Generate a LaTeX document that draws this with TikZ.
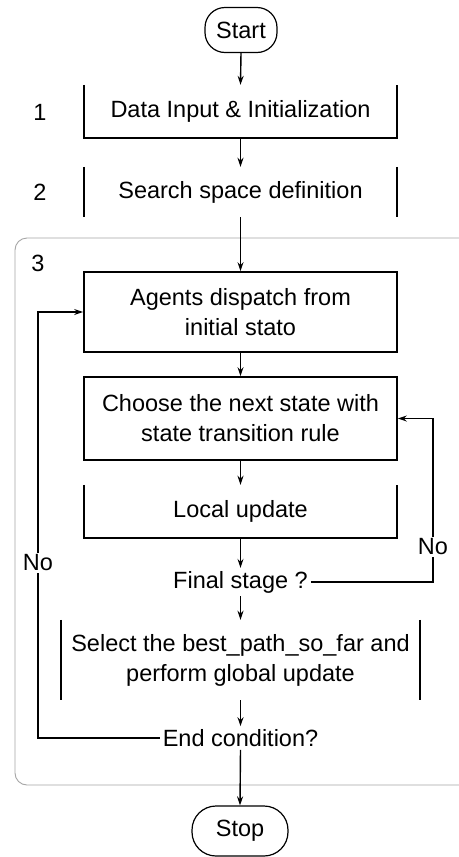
\documentclass[tikz,border=0pt]{standalone}
\usepackage{fontspec}
\setmainfont{Liberation Sans}
\usetikzlibrary{arrows.meta}
\begin{document}
\begin{tikzpicture}[x=1pt,y=-1pt,
  every node/.style={font=\fontsize{23.5}{30}\selectfont, inner sep=0pt},
  side/.style={draw=none, minimum width=313pt},
  fullbox/.style={draw, line width=1.7pt, minimum width=313pt},
  term/.style={draw, line width=1.2pt},
  arr/.style={line width=1.4pt, -{Stealth[length=9pt,width=6pt]}},
  boxline/.style={line width=1.7pt},
  lbl/.style={inner sep=3pt},
  nolbl/.style={fill=white, inner sep=2pt}
]
\useasboundingbox (0,0) rectangle (458,857);
\fill[white] (0,0) rectangle (458,857);
% group frame (step 3)
\draw[gray!70, line width=0.9pt, rounded corners=12pt] (470,238) -- (15,238) -- (15,785) -- (470,785);

\node[term, minimum width=72pt, minimum height=45pt, rounded corners=20pt] (start) at (241,30) {Start};

\node[side, minimum height=53pt] (b1) at (240.5,111.5) {Data Input \& Initialization};
\draw[boxline] (b1.north west) -- (b1.south west) -- (b1.south east) -- (b1.north east);

\node[side, minimum height=50pt] (b2) at (240.5,192) {Search space definition};
\draw[boxline] (b2.north west) -- (b2.south west);
\draw[boxline] (b2.north east) -- (b2.south east);

\node[fullbox, minimum height=80pt, align=center] (b3) at (240.5,312) {Agents dispatch from\\initial stato};
\node[fullbox, minimum height=83pt, align=center] (b4) at (240.5,418.5) {Choose the next state with\\state transition rule};

\node[side, minimum height=53pt] (b5) at (240.5,511.5) {Local update};
\draw[boxline] (b5.north west) -- (b5.south west) -- (b5.south east) -- (b5.north east);

\node[lbl] (fin) at (240.5,582) {Final stage ?};

\node[side, minimum width=359pt, minimum height=80pt, align=center] (b6) at (240.5,660) {Select the best\_path\_so\_far and\\perform global update};
\draw[boxline] (b6.north west) -- (b6.south west);
\draw[boxline] (b6.north east) -- (b6.south east);

\node[lbl] (endc) at (240.5,738) {End condition?};

\node[term, minimum width=96pt, minimum height=50pt, rounded corners=24pt] (stop) at (240,831) {Stop};

% step labels
\node (l1) at (40,112) {1};
\node (l2) at (40,192) {2};
\node (l3) at (38,263) {3};

% main flow
\draw[arr] (start.south) -- (b1.north);
\draw[arr] (b1.south) -- (b2.north);
\draw[arr] (b2.south) -- (b3.north);
\draw[arr] (b3.south) -- (b4.north);
\draw[arr] (b4.south) -- (b5.north);
\draw[arr] (b5.south) -- (fin.north);
\draw[arr] (fin.south) -- (b6.north);
\draw[arr] (b6.south) -- (endc.north);
\draw[arr] (endc.south) -- (stop.north);

% loops
\coordinate (rc) at (433,582);
\draw[arr] (fin.east) -- (rc) |- (b4.east);
\node[nolbl] (no1) at (433,547) {No};
\coordinate (lc) at (38,738);
\draw[arr] (endc.west) -- (lc) |- (b3.west);
\node[nolbl] (no2) at (38,563) {No};
\end{tikzpicture}
\end{document}
